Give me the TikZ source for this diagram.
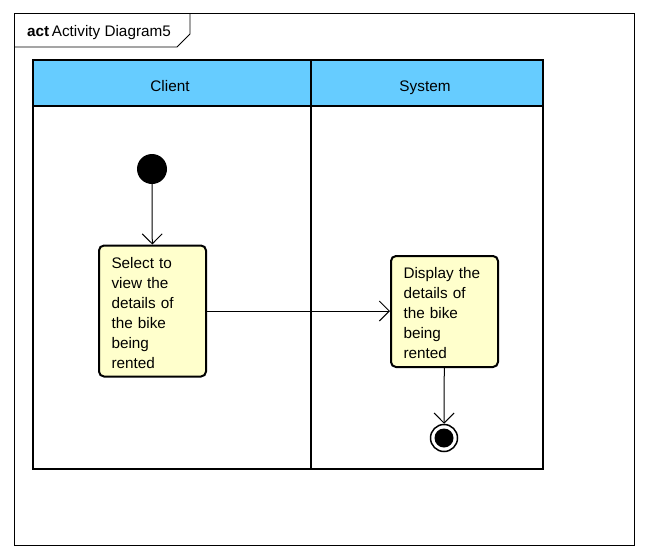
\documentclass[tikz,border=0pt]{standalone}
\usepackage{fontspec}
\setmainfont{Liberation Sans}
\usetikzlibrary{arrows.meta}
\definecolor{lanehead}{HTML}{66CCFF}
\definecolor{actfill}{HTML}{FFFFCC}
\tikzset{
  frameline/.style={draw=black, line width=0.8pt},
  laneline/.style={draw=black, line width=2.4pt},
  actbox/.style={draw=black, fill=actfill, line width=2pt, rounded corners=5pt,
    minimum width=107pt, text width=82pt, align=left, inner sep=0pt,
    font=\fontsize{15.3pt}{20pt}\selectfont},
  flow/.style={draw=black, line width=1pt, -{Straight Barb[length=10pt,width=20pt,line width=1pt]}},
  lbl/.style={font=\fontsize{15.3pt}{18pt}\selectfont, inner sep=0pt}
}
\begin{document}
\begin{tikzpicture}[x=1pt,y=-1pt]
\useasboundingbox (0,0) rectangle (648,557);
% frame
\draw[frameline] (14,13) rectangle (634,545);
\draw[frameline] (14,47) -- (177,47) -- (190,34) -- (190,13);
\node[lbl, anchor=base west] (title) at (27,36) {\textbf{act}\,Activity Diagram5};
% swimlanes
\fill[lanehead] (33,60) rectangle (543,106);
\draw[laneline] (33,60) rectangle (543,469);
\draw[laneline] (33,106) -- (543,106);
\draw[laneline] (311,60) -- (311,469);
\node[lbl, anchor=base] (client) at (170,91) {Client};
\node[lbl, anchor=base] (system) at (425,91) {System};
% nodes
\node[circle, fill=black, minimum size=30pt, inner sep=0pt] (init) at (152,169) {};
\node[actbox, minimum height=131pt] (a1) at (152.5,311) {\rule{0pt}{15pt}Select to\\view the\\details of\\the bike\\being\\rented};
\node[actbox, minimum height=111pt] (a2) at (444.5,311.5) {\rule{0pt}{15pt}Display the\\details of\\the bike\\being\\rented};
\node[circle, draw=black, line width=1.5pt, fill=white, minimum size=27pt, inner sep=0pt] (fin) at (444,438) {};
\node[circle, fill=black, minimum size=19pt, inner sep=0pt] (finin) at (444,438) {};
% flows
\draw[flow] (init) -- (a1);
\draw[flow] (a1.east) -- (a1.east -| a2.west);
\draw[flow] (a2) -- (fin);
\end{tikzpicture}
\end{document}
